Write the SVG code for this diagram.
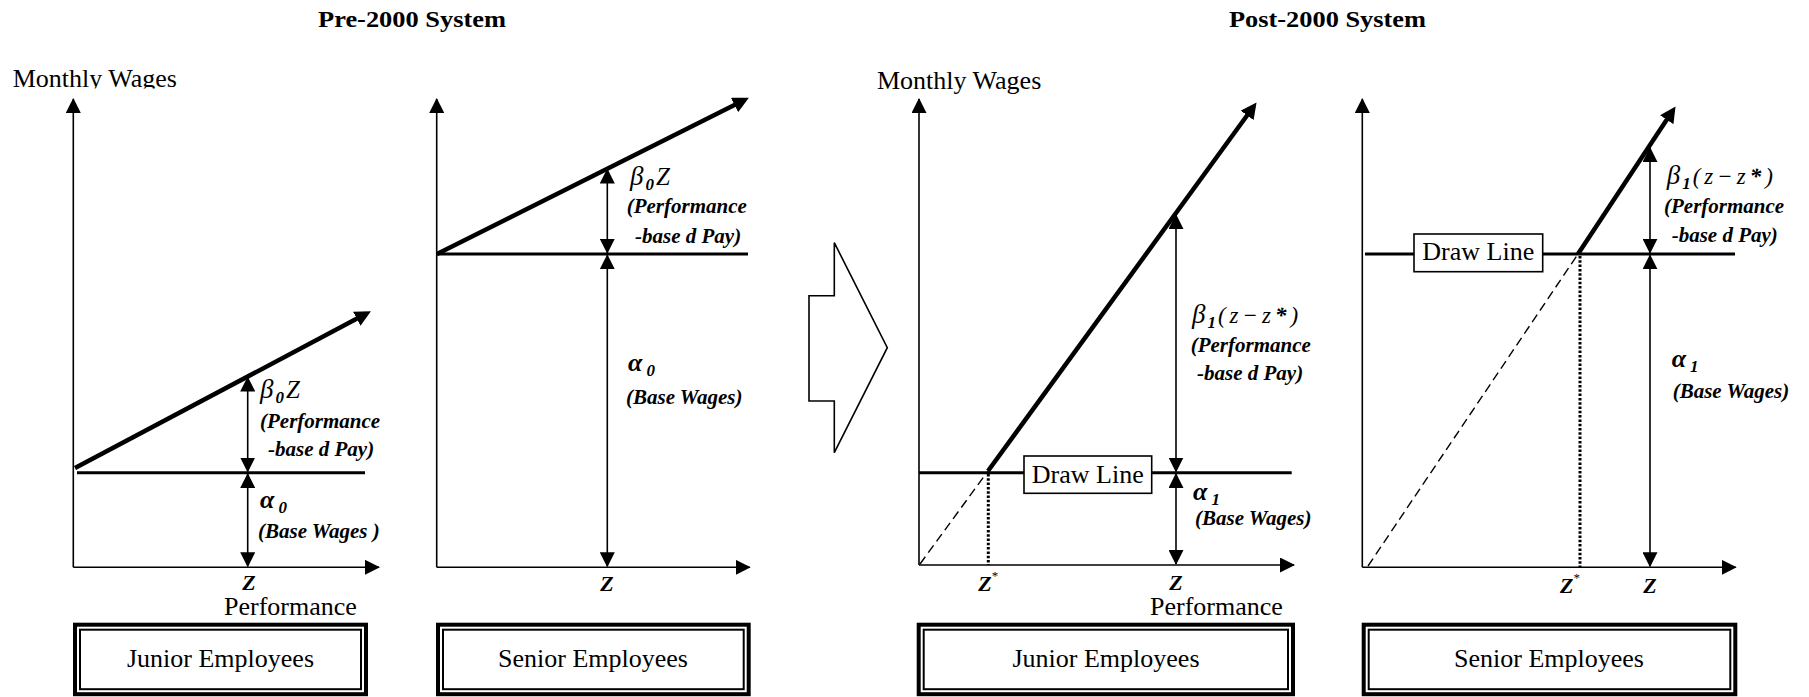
<svg xmlns="http://www.w3.org/2000/svg" width="1809" height="697" viewBox="0 0 1809 697">
<defs>
<style>
.s{font-family:"Liberation Serif","Times New Roman",serif;fill:#000}
.reg{font-size:26px}
.title{font-size:23px;font-weight:bold}
.lbl{font-size:21px;font-weight:bold;font-style:italic}
.g{font-size:27px;font-style:italic}
.gb{font-size:26px;font-style:italic;font-weight:bold}
.sub{font-size:17px;font-weight:bold;font-style:italic}
.zb{font-size:25px}
.zz{font-size:23px;font-style:italic;letter-spacing:4px}
.zl{font-size:22px;font-weight:bold;font-style:italic}
.ast{font-size:13px;font-weight:normal;font-style:normal}
.axis{stroke:#000;stroke-width:1.6;fill:none;marker-end:url(#ah)}
.dbl{stroke:#000;stroke-width:1.6;fill:none;marker-start:url(#ah);marker-end:url(#ah)}
.base{stroke:#000;stroke-width:3;fill:none}
.slope{stroke:#000;stroke-width:4.5;fill:none;marker-end:url(#ahb)}
.dash{stroke:#000;stroke-width:1.4;stroke-dasharray:9 5;fill:none}
.dot{stroke:#000;stroke-width:3;stroke-dasharray:2.5 1.8;fill:none}
.outer{fill:#fff;stroke:#000;stroke-width:4}
.inner{fill:none;stroke:#000;stroke-width:2}
.dl{fill:#fff;stroke:#000;stroke-width:1.6}
.big{fill:#fff;stroke:#000;stroke-width:1.6;stroke-linejoin:miter}
</style>
<marker id="ah" markerUnits="userSpaceOnUse" markerWidth="15" markerHeight="15" refX="14" refY="7.5" orient="auto-start-reverse"><path d="M0,0 L15,7.5 L0,15 z" fill="#000"/></marker>
<marker id="ahb" markerUnits="userSpaceOnUse" markerWidth="16" markerHeight="16" refX="11" refY="8" orient="auto"><path d="M0,0 L16,8 L0,16 z" fill="#000"/></marker>
<clipPath id="clipMW"><rect x="0" y="50" width="300" height="38.5"/></clipPath>
</defs>

<g id="titles">
<text class="s title" x="318" y="27" textLength="188" lengthAdjust="spacingAndGlyphs">Pre-2000 System</text>
<text class="s title" x="1229" y="27" textLength="197" lengthAdjust="spacingAndGlyphs">Post-2000 System</text>
</g>

<g id="pre-junior-chart">
<text class="s reg" x="12.7" y="87.3" clip-path="url(#clipMW)">Monthly Wages</text>
<line class="axis" x1="73.3" y1="567.3" x2="73.3" y2="99"/>
<line class="axis" x1="73.3" y1="567.3" x2="379" y2="567.3"/>
<line class="base" x1="77" y1="472.7" x2="365" y2="472.7"/>
<line class="slope" x1="75" y1="468" x2="366.5" y2="313.6"/>
<line class="dbl" x1="247.7" y1="377.5" x2="247.7" y2="471.5"/>
<line class="dbl" x1="247.7" y1="473.9" x2="247.7" y2="566.3"/>
<text class="s g" x="260" y="398">β<tspan class="sub" dy="5" dx="2">0</tspan><tspan class="zb" dy="-5" dx="2">Z</tspan></text>
<text class="s lbl" x="260" y="427.7">(Performance</text>
<text class="s lbl" x="268" y="456">-base d Pay)</text>
<text class="s gb" x="260" y="508">α<tspan class="sub" dy="5" dx="4">0</tspan></text>
<text class="s lbl" x="258" y="538">(Base Wages )</text>
<text class="s zl" x="249" y="590" text-anchor="middle">Z</text>
<text class="s reg" x="224" y="615">Performance</text>
</g>

<g id="pre-senior-chart">
<line class="axis" x1="436.7" y1="567.3" x2="436.7" y2="99"/>
<line class="axis" x1="436.7" y1="567.3" x2="749.7" y2="567.3"/>
<line class="base" x1="437" y1="254" x2="748" y2="254"/>
<line class="slope" x1="437" y1="254" x2="744.4" y2="100.1"/>
<line class="dbl" x1="607.3" y1="169.5" x2="607.3" y2="252.8"/>
<line class="dbl" x1="607.3" y1="255.2" x2="607.3" y2="566.3"/>
<text class="s g" x="630" y="185">β<tspan class="sub" dy="5" dx="2">0</tspan><tspan class="zb" dy="-5" dx="2">Z</tspan></text>
<text class="s lbl" x="626.7" y="213">(Performance</text>
<text class="s lbl" x="635" y="242.7">-base d Pay)</text>
<text class="s gb" x="628" y="370.7">α<tspan class="sub" dy="5" dx="4">0</tspan></text>
<text class="s lbl" x="626" y="404">(Base Wages)</text>
<text class="s zl" x="607" y="591" text-anchor="middle">Z</text>
</g>

<g id="transition-arrow">
<polygon class="big" points="809,295.7 834.3,295.7 834.3,242.7 887.3,347.7 834.3,452.7 834.3,401 809,401"/>
</g>

<g id="post-junior-chart">
<text class="s reg" x="877" y="88.5">Monthly Wages</text>
<line class="axis" x1="919" y1="565" x2="919" y2="99"/>
<line class="axis" x1="919" y1="565" x2="1294" y2="565"/>
<line class="base" x1="919" y1="472.7" x2="1291.7" y2="472.7"/>
<line class="dash" x1="920" y1="564" x2="988" y2="471"/>
<line class="dot" x1="988.3" y1="474" x2="988.3" y2="565"/>
<line class="slope" x1="988" y1="471" x2="1253.6" y2="106.5"/>
<line class="dbl" x1="1176" y1="215" x2="1176" y2="471.5"/>
<line class="dbl" x1="1176" y1="473.9" x2="1176" y2="564"/>
<g id="post-junior-drawline">
<rect class="dl" x="1024" y="456" width="127.7" height="37.3"/>
<text class="s reg" x="1087.8" y="482.7" text-anchor="middle">Draw Line</text>
</g>
<text class="s g" x="1192" y="323">β<tspan class="sub" dy="5" dx="2">1</tspan><tspan class="zz" dy="-5" dx="2">(z−z<tspan font-weight="bold">*</tspan>)</tspan></text>
<text class="s lbl" x="1190.7" y="351.7">(Performance</text>
<text class="s lbl" x="1197" y="380">-base d Pay)</text>
<text class="s gb" x="1193" y="500">α<tspan class="sub" dy="5" dx="4">1</tspan></text>
<text class="s lbl" x="1195" y="525">(Base Wages)</text>
<text class="s zl" x="978.3" y="591">Z<tspan class="ast" dy="-11">*</tspan></text>
<text class="s zl" x="1176" y="590" text-anchor="middle">Z</text>
<text class="s reg" x="1150" y="615">Performance</text>
</g>

<g id="post-senior-chart">
<line class="axis" x1="1362.3" y1="567.3" x2="1362.3" y2="99"/>
<line class="axis" x1="1362.3" y1="567.3" x2="1735.7" y2="567.3"/>
<line class="base" x1="1365" y1="254" x2="1735" y2="254"/>
<line class="dash" x1="1368" y1="566" x2="1578" y2="254"/>
<line class="dot" x1="1580" y1="256" x2="1580" y2="567"/>
<line class="slope" x1="1578" y1="254" x2="1672.8" y2="110.6"/>
<line class="dbl" x1="1650" y1="148" x2="1650" y2="252.8"/>
<line class="dbl" x1="1650" y1="255.2" x2="1650" y2="566.3"/>
<g id="post-senior-drawline">
<rect class="dl" x="1414" y="234" width="128.7" height="37.7"/>
<text class="s reg" x="1478.3" y="260" text-anchor="middle">Draw Line</text>
</g>
<text class="s g" x="1666.7" y="184">β<tspan class="sub" dy="5" dx="2">1</tspan><tspan class="zz" dy="-5" dx="2">(z−z<tspan font-weight="bold">*</tspan>)</tspan></text>
<text class="s lbl" x="1664" y="213.3">(Performance</text>
<text class="s lbl" x="1671.7" y="241.7">-base d Pay)</text>
<text class="s gb" x="1671.7" y="367.3">α<tspan class="sub" dy="5" dx="4">1</tspan></text>
<text class="s lbl" x="1672.7" y="398.3">(Base Wages)</text>
<text class="s zl" x="1560" y="593">Z<tspan class="ast" dy="-11">*</tspan></text>
<text class="s zl" x="1650" y="593" text-anchor="middle">Z</text>
</g>

<g id="node-pre-junior">
<rect class="outer" x="75" y="624.7" width="291" height="69.5"/>
<rect class="inner" x="80" y="629.7" width="281" height="59.5"/>
<text class="s reg" x="220.5" y="666.7" text-anchor="middle">Junior Employees</text>
</g>
<g id="node-pre-senior">
<rect class="outer" x="438" y="624.7" width="310.7" height="69.5"/>
<rect class="inner" x="443" y="629.7" width="300.7" height="59.5"/>
<text class="s reg" x="593" y="666.7" text-anchor="middle">Senior Employees</text>
</g>
<g id="node-post-junior">
<rect class="outer" x="918.7" y="624.7" width="374.3" height="69.5"/>
<rect class="inner" x="923.7" y="629.7" width="364.3" height="59.5"/>
<text class="s reg" x="1106" y="666.7" text-anchor="middle">Junior Employees</text>
</g>
<g id="node-post-senior">
<rect class="outer" x="1363.7" y="624.7" width="371.6" height="69.5"/>
<rect class="inner" x="1368.7" y="629.7" width="361.6" height="59.5"/>
<text class="s reg" x="1549" y="666.7" text-anchor="middle">Senior Employees</text>
</g>
</svg>
